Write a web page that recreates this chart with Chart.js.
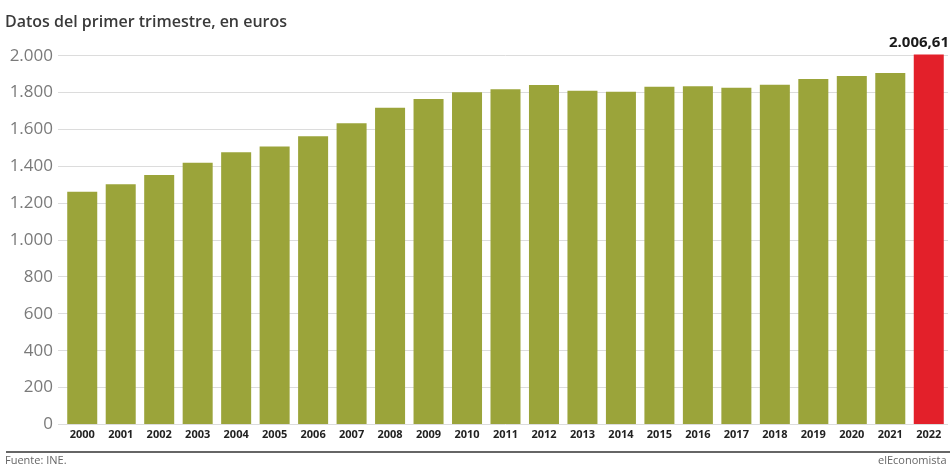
<!DOCTYPE html>
<html>
<head>
<meta charset="utf-8">
<script src="https://cdn.jsdelivr.net/npm/chart.js@4.4.1/dist/chart.umd.min.js"></script>
<style>
  html, body { margin: 0; padding: 0; background: #fff; }
  #wrap { position: relative; width: 950px; height: 468px; }
  canvas { display: block; }
</style>
</head>
<body>
<div id="wrap"><canvas id="c" width="950" height="468"></canvas></div>
<script>
const years = ['2000','2001','2002','2003','2004','2005','2006','2007','2008','2009','2010','2011','2012','2013','2014','2015','2016','2017','2018','2019','2020','2021','2022'];
const salaries = [1262,1303,1353,1420,1476,1507,1563,1633,1718,1765,1802,1818,1841,1810,1805,1832,1834,1826,1843,1874,1890,1906,2006.61];
const yTicks = [0,200,400,600,800,1000,1200,1400,1600,1800,2000];
const titleText = 'Datos del primer trimestre, en euros';
const sourceText = 'Fuente: INE.';
const creditText = 'elEconomista';
const highlightLabel = '2.006,61';

const GREEN = '#9ba43a';
const RED = '#e3202a';

const fmt = v => v.toLocaleString('de-DE');

const extras = {
  id: 'extras',
  afterDraw(chart) {
    const ctx = chart.ctx;
    ctx.save();
    // title
    ctx.fillStyle = '#3a3a3a';
    ctx.font = '600 16px "Open Sans"';
    ctx.textBaseline = 'middle';
    ctx.textAlign = 'left';
    ctx.fillText(titleText, 5, 22);
    // highlight label
    const meta = chart.getDatasetMeta(0);
    const last = meta.data[meta.data.length - 1];
    ctx.font = 'bold 15px "Open Sans"';
    ctx.fillStyle = '#1a1a1a';
    const w = ctx.measureText(highlightLabel).width;
    const cx = Math.min(last.x, 949 - w / 2);
    ctx.textAlign = 'center';
    ctx.fillText(highlightLabel, cx, 43);
    // bottom rule
    ctx.strokeStyle = '#666';
    ctx.lineWidth = 2;
    ctx.beginPath();
    ctx.moveTo(6, 452);
    ctx.lineTo(950, 452);
    ctx.stroke();
    // source & credit
    ctx.font = '11px "Open Sans"';
    ctx.fillStyle = '#666';
    ctx.textAlign = 'left';
    ctx.fillText(sourceText, 5, 461);
    ctx.fillText(creditText, 878, 461);
    ctx.restore();
  }
};

new Chart(document.getElementById('c'), {
  type: 'bar',
  data: {
    labels: years,
    datasets: [{
      data: salaries,
      backgroundColor: salaries.map((v, i) => i === salaries.length - 1 ? RED : GREEN),
      borderWidth: 0,
      barPercentage: 0.78,
      categoryPercentage: 1.0
    }]
  },
  options: {
    responsive: false,
    animation: false,
    devicePixelRatio: 1,
    layout: { padding: { top: 52, left: 0, right: 2, bottom: 23.5 } },
    plugins: { legend: { display: false }, tooltip: { enabled: false }, title: { display: false } },
    scales: {
      x: {
        grid: { display: false, drawTicks: false },
        border: { display: false },
        ticks: {
          color: '#222',
          font: { family: '"Open Sans"', size: 11, weight: 'bold' },
          padding: 4,
          maxRotation: 0,
          autoSkip: false
        },
        afterFit(scale) { scale.height = 20; }
      },
      y: {
        min: 0,
        max: 2020,
        afterBuildTicks(scale) { scale.ticks = yTicks.map(v => ({ value: v })); },
        grid: { color: '#dcdcdc', lineWidth: 1, drawTicks: true, tickLength: 5, tickColor: '#dcdcdc' },
        border: { display: false },
        ticks: {
          color: '#7a7a7a',
          font: { family: '"Open Sans"', size: 17 },
          padding: 5,
          callback: v => fmt(v)
        },
        afterFit(scale) { scale.width = 63; }
      }
    }
  },
  plugins: [extras]
});
</script>
</body>
</html>
